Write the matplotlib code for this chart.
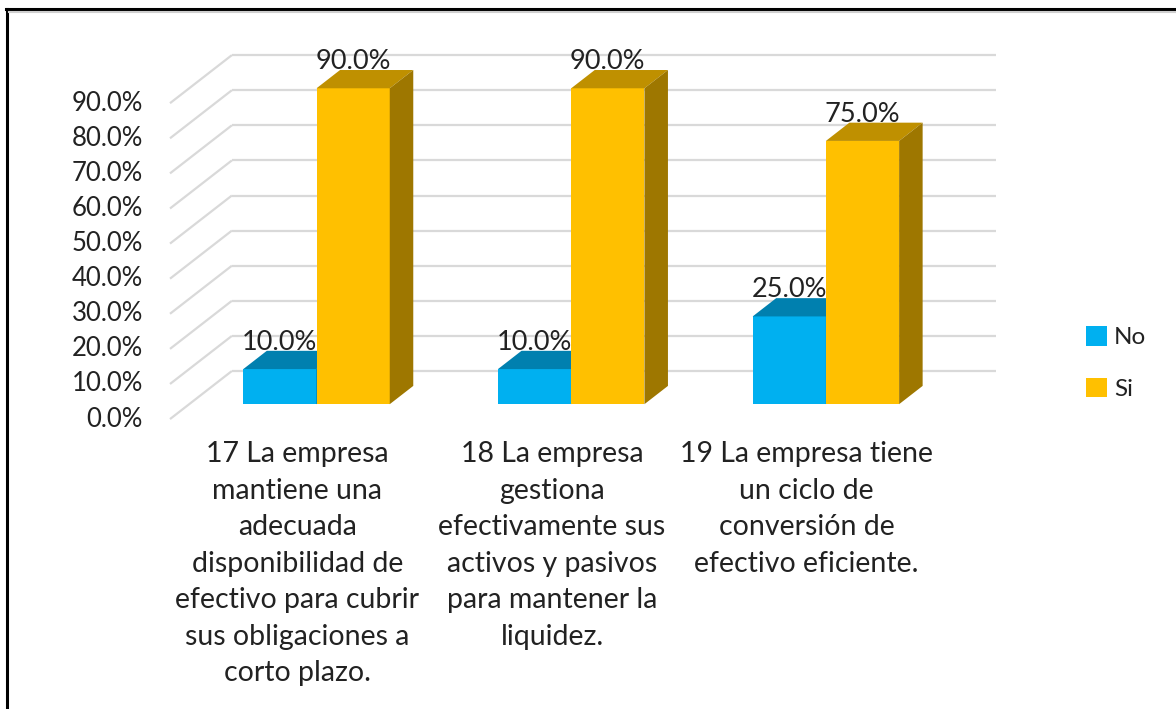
import numpy as np
import matplotlib.pyplot as plt
from matplotlib.patches import Polygon, Patch
from matplotlib.lines import Line2D

plt.rcParams['font.family'] = ['Lato', 'DejaVu Sans']

categories = [
    "17 La empresa\nmantiene una\nadecuada\ndisponibilidad de\nefectivo para cubrir\nsus obligaciones a\ncorto plazo.",
    "18 La empresa\ngestiona\nefectivamente sus\nactivos y pasivos\npara mantener la\nliquidez.",
    "19 La empresa tiene\nun ciclo de\nconversión de\nefectivo eficiente.",
]
series_names = ["No", "Si"]
no_values = [10.0, 10.0, 25.0]
si_values = [90.0, 90.0, 75.0]
y_ticks = [0, 10, 20, 30, 40, 50, 60, 70, 80, 90]

front_colors = ["#00B0F0", "#FFC000"]
top_colors = ["#0080AF", "#BF9000"]
side_colors = ["#006E96", "#9E7700"]
text_color = "#222222"
grid_color = "#D9D9D9"

# fake 3d: depth of the floor in data units
depth_x = 0.243
depth_y = 13.7
bar_front, bar_back = 0.31, 0.69
bar_w = 0.2875

fig = plt.figure(figsize=(11.76, 7.09), dpi=100)
ax = fig.add_axes([0, 0, 1, 1])
ax.set_xlim(-0.6675, 3.950)
ax.set_ylim(-82.6, 119.4)
ax.axis('off')

n = len(categories)

# walls
for t in y_ticks:
    ax.plot([0, depth_x], [t, t + depth_y], color=grid_color, lw=1.6, zorder=1,
            solid_capstyle='butt')
    ax.plot([depth_x, n + depth_x], [t + depth_y, t + depth_y], color=grid_color, lw=1.6,
            zorder=1, solid_capstyle='butt')
    ax.text(-0.106, t, "{:.1f}%".format(t), ha='right', va='center', fontsize=18.5,
            color=text_color)

ox, oy = bar_front * depth_x, bar_front * depth_y
bdx, bdy = (bar_back - bar_front) * depth_x, (bar_back - bar_front) * depth_y

z = 2
for i in range(n):
    for j, vals in enumerate([no_values, si_values]):
        v = vals[i]
        xl = i + 0.5 - bar_w + j * bar_w + ox
        xr = xl + bar_w
        top = oy + v
        ax.bar(xl, v, width=bar_w, bottom=oy, align='edge', color=front_colors[j],
               zorder=z, linewidth=0)
        ax.add_patch(Polygon([(xl, top), (xr, top), (xr + bdx, top + bdy), (xl + bdx, top + bdy)],
                             closed=True, facecolor=top_colors[j], lw=0, zorder=z))
        ax.add_patch(Polygon([(xr, oy), (xr, top), (xr + bdx, top + bdy), (xr + bdx, oy + bdy)],
                             closed=True, facecolor=side_colors[j], lw=0, zorder=z))
        ax.text(xl + bar_w / 2, top + bdy + 0.3, "{:.1f}%".format(v), ha='center',
                va='baseline', fontsize=19.5, color=text_color, zorder=20)
        z += 1

for i, cat in enumerate(categories):
    ax.text(i + 0.5, -6.3, cat, ha='center', va='top', fontsize=20.5, color=text_color,
            linespacing=1.5)

handles = [Patch(facecolor=c, edgecolor='none') for c in front_colors]
ax.legend(handles, series_names, loc='center left', bbox_to_anchor=(1074 / 1176, 1 - 363 / 709),
          bbox_transform=fig.transFigure, frameon=False, fontsize=17.5, borderpad=0,
          handlelength=0.85, handleheight=0.85, handletextpad=0.3, labelspacing=1.2,
          labelcolor=text_color)

# outer border (left and top only)
fig.add_artist(Line2D([7 / 1176, 7 / 1176], [0, 1 - 9 / 709], transform=fig.transFigure,
                      color='black', lw=2.2))
fig.add_artist(Line2D([6 / 1176, 1], [1 - 9 / 709, 1 - 9 / 709], transform=fig.transFigure,
                      color='black', lw=2.2))
fig.add_artist(Line2D([9 / 1176, 1], [1 - 12 / 709, 1 - 12 / 709], transform=fig.transFigure,
                      color='#cfcfcf', lw=1.5))

fig.savefig("out.png", dpi=100)
